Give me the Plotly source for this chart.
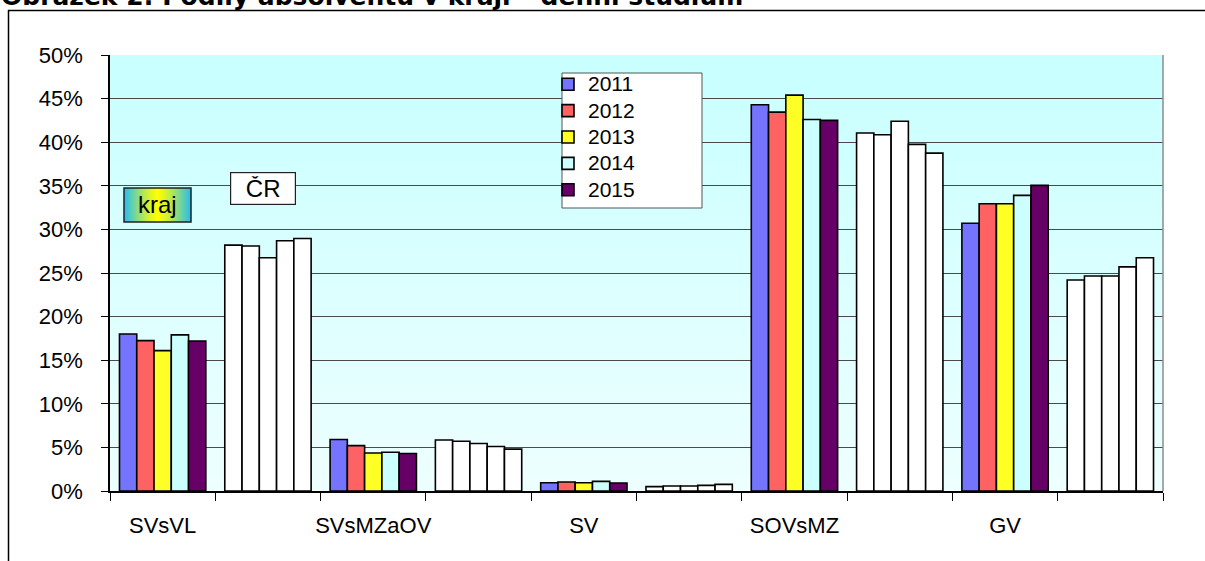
import base64
import struct
import zlib

import plotly.graph_objects as go

# ---------------- data ----------------
fields = ["SVsVL", "SVsMZaOV", "SV", "SOVsMZ", "GV"]
years = ["2011", "2012", "2013", "2014", "2015"]

kraj_2011 = [18.0, 5.9, 0.95, 44.3, 30.7]
kraj_2012 = [17.25, 5.2, 1.03, 43.45, 32.95]
kraj_2013 = [16.1, 4.35, 0.95, 45.4, 32.95]
kraj_2014 = [17.9, 4.45, 1.1, 42.6, 33.9]
kraj_2015 = [17.2, 4.3, 0.92, 42.5, 35.05]

cr_2011 = [28.2, 5.85, 0.5, 41.05, 24.2]
cr_2012 = [28.1, 5.7, 0.57, 40.85, 24.65]
cr_2013 = [26.75, 5.45, 0.57, 42.4, 24.65]
cr_2014 = [28.7, 5.1, 0.65, 39.75, 25.7]
cr_2015 = [28.95, 4.8, 0.76, 38.75, 26.75]

y_ticks = [0, 5, 10, 15, 20, 25, 30, 35, 40, 45, 50]
y_tick_labels = [f"{v}%" for v in y_ticks]

kraj_vals = [kraj_2011, kraj_2012, kraj_2013, kraj_2014, kraj_2015]
cr_vals = [cr_2011, cr_2012, cr_2013, cr_2014, cr_2015]
year_colors = ["#7474FF", "#FF6262", "#FFFF26", "#CCFFFF", "#660066"]

# categories: kraj group followed by ČR group for every field
categories = []
tick_text = []
for f in fields:
    categories += [f, f + " (ČR)"]
    tick_text += [f, ""]

# ---------------- helpers: small gradient PNGs ----------------
def png_uri(rows):
    h = len(rows)
    w = len(rows[0])
    raw = b"".join(b"\x00" + bytes([c for px in row for c in px]) for row in rows)

    def chunk(t, d):
        return struct.pack(">I", len(d)) + t + d + struct.pack(">I", zlib.crc32(t + d) & 0xFFFFFFFF)

    png = (b"\x89PNG\r\n\x1a\n"
           + chunk(b"IHDR", struct.pack(">IIBBBBB", w, h, 8, 2, 0, 0, 0))
           + chunk(b"IDAT", zlib.compress(raw))
           + chunk(b"IEND", b""))
    return "data:image/png;base64," + base64.b64encode(png).decode()


def lerp(a, b, t):
    return tuple(int(round(a[i] + (b[i] - a[i]) * t)) for i in range(3))


bg_rows = [[lerp((200, 255, 255), (238, 255, 255), i / 63)] for i in range(64)]
bg_uri = png_uri(bg_rows)

kraj_row = []
for i in range(64):
    t = i / 63
    d = abs(t - 0.5) * 2  # 0 in middle, 1 at edges
    kraj_row.append(lerp((255, 255, 0), (40, 190, 240), d ** 1.2))
kraj_uri = png_uri([kraj_row])

# ---------------- figure ----------------
W, H = 1205, 561
L, R, T, B = 110, 42, 55, 70
PW, PH = W - L - R, H - T - B


def px(x):
    return (x - L) / PW


def py(y):
    return (H - B - y) / PH


fig = go.Figure()

for yi, yr in enumerate(years):
    yvals = []
    cols = []
    for k in range(len(fields)):
        yvals += [kraj_vals[yi][k], cr_vals[yi][k]]
        cols += [year_colors[yi], "#FFFFFF"]
    fig.add_trace(go.Bar(
        x=categories, y=yvals, name=f'<span style="font-size:21px">{yr}</span>',
        marker=dict(color=cols, line=dict(color="#000000", width=1.6)),
    ))

FONT = "Liberation Sans, Arial, sans-serif"

fig.update_layout(
    width=W, height=H, autosize=False,
    margin=dict(l=L, r=R, t=T, b=B, pad=0, autoexpand=False),
    paper_bgcolor="#FFFFFF",
    plot_bgcolor="rgba(0,0,0,0)",
    barmode="group", bargap=0.18, bargroupgap=0,
    font=dict(family=FONT, size=22, color="#000000"),
    showlegend=True,
    legend=dict(
        x=px(548), y=py(66), xanchor="left", yanchor="top",
        bgcolor="rgba(0,0,0,0)", borderwidth=0,
        font=dict(family=FONT, size=18, color="#000000"),
        traceorder="normal",
    ),
    xaxis=dict(
        type="category", categoryorder="array", categoryarray=categories,
        tickmode="array", tickvals=categories, ticktext=tick_text,
        tickson="boundaries", ticks="outside", ticklen=8, tickcolor="#000000", tickwidth=1,
        showline=True, linecolor="#000000", linewidth=1.5,
        showgrid=False, zeroline=False, ticklabelstandoff=14,
        tickangle=0, automargin=False,
        tickfont=dict(size=22),
    ),
    yaxis=dict(
        range=[0, 50], tickmode="array", tickvals=y_ticks, ticktext=y_tick_labels,
        ticks="outside", ticklen=7, tickcolor="#000000", tickwidth=1,
        showline=True, linecolor="#000000", linewidth=1.5,
        showgrid=True, gridcolor="#4A4A4A", gridwidth=1, zeroline=False,
        ticklabelstandoff=14, tickfont=dict(size=22), automargin=False,
    ),
    images=[
        dict(source=bg_uri, xref="paper", yref="paper", x=0, y=1, sizex=1, sizey=1,
             xanchor="left", yanchor="top", sizing="stretch", layer="below"),
        dict(source=kraj_uri, xref="paper", yref="paper", x=px(124), y=py(188),
             sizex=px(191) - px(124), sizey=py(188) - py(222),
             xanchor="left", yanchor="top", sizing="stretch", layer="above"),
    ],
    shapes=[
        # right border of plot area
        dict(type="line", xref="paper", yref="paper", x0=1, x1=1, y0=0, y1=1,
             line=dict(color="#8C8C8C", width=1.5), layer="above"),
        # outer frame (top and left)
        dict(type="line", xref="paper", yref="paper", x0=px(8), x1=px(1205), y0=py(10.5), y1=py(10.5),
             line=dict(color="#000000", width=1.5), layer="above"),
        dict(type="line", xref="paper", yref="paper", x0=px(8.5), x1=px(8.5), y0=py(10), y1=py(561),
             line=dict(color="#000000", width=1.5), layer="above"),
        # legend box
        dict(type="rect", xref="paper", yref="paper", x0=px(562), x1=px(702), y0=py(73), y1=py(208),
             fillcolor="#FFFFFF", line=dict(color="#555555", width=1), layer="above"),
        # kraj box border
        dict(type="rect", xref="paper", yref="paper", x0=px(124), x1=px(191), y0=py(188), y1=py(222),
             line=dict(color="#222222", width=1.5), layer="above"),
    ],
    annotations=[
        dict(text="<b>Obrázek 2: Podíly absolventů v kraji – denní studium</b>",
             xref="paper", yref="paper", x=px(-1), y=py(-3.5), xanchor="left", yanchor="middle",
             showarrow=False, font=dict(family="DejaVu Sans, Verdana, sans-serif", size=25, color="#000000")),
        dict(text="kraj", xref="paper", yref="paper", x=px(157.5), y=py(204), xanchor="center", yanchor="middle",
             showarrow=False, font=dict(size=24, color="#000000")),
        dict(text="ČR", xref="paper", yref="paper", x=px(263), y=py(188), xanchor="center", yanchor="middle",
             showarrow=False, font=dict(size=24, color="#000000"),
             bgcolor="#FFFFFF", bordercolor="#222222", borderwidth=1.2, borderpad=3,
             width=58, height=25),
    ],
)

fig.write_html(
    "out.html",
    config={"displayModeBar": False},
    post_script="document.body.style.margin='0';document.body.style.overflow='hidden';",
)
